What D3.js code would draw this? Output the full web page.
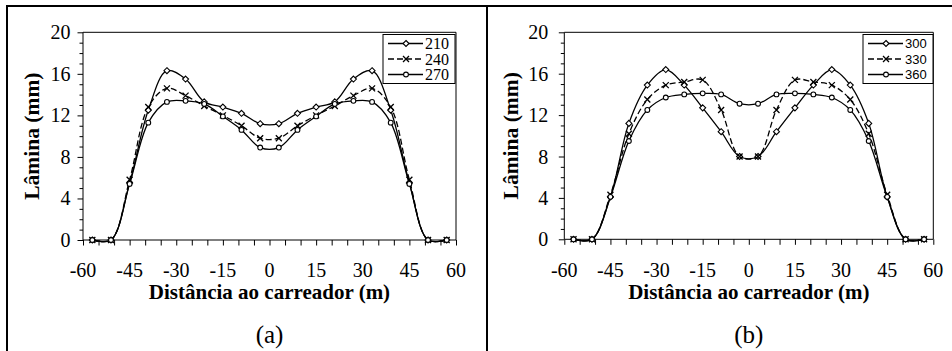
<!DOCTYPE html>
<html><head><meta charset="utf-8">
<script src="https://cdn.jsdelivr.net/npm/d3@7"></script>
<style>
body{margin:0;background:#fff} svg{display:block}
.serif{font-family:"Liberation Serif","Tinos","Times New Roman","DejaVu Serif",serif}
.sans{font-family:"Liberation Sans",Arial,sans-serif}
</style>
</head><body>
<svg id="c" width="952" height="351"></svg>
<script>
// ---------- data ----------
const distances = [-57,-51,-45,-39,-33,-27,-21,-15,-9,-3,3,9,15,21,27,33,39,45,51,57];

const seriesNamesA = ["210","240","270"];
const a210 = [0,0,5.5,12.5,16.3,15.5,13.3,12.8,12.2,11.2,11.2,12.2,12.8,13.3,15.5,16.3,12.5,5.5,0,0];
const a240 = [0,0,5.8,12.8,14.6,13.9,12.9,12.0,11.0,9.8,9.8,11.0,12.0,12.9,13.9,14.6,12.8,5.8,0,0];
const a270 = [0,0,5.4,11.3,13.3,13.4,13.1,11.9,10.6,8.9,8.9,10.6,11.9,13.1,13.4,13.3,11.3,5.4,0,0];

const seriesNamesB = ["300","330","360"];
const b300 = [0,0,4.1,11.2,14.9,16.4,14.9,12.7,10.4,8.0,8.0,10.4,12.7,14.9,16.4,14.9,11.2,4.1,0,0];
const b330 = [0,0,4.3,10.2,13.5,14.9,15.2,15.4,12.5,8.0,8.0,12.5,15.4,15.2,14.9,13.5,10.2,4.3,0,0];
const b360 = [0,0,4.1,9.5,12.5,13.7,14.0,14.1,14.0,13.1,13.1,14.0,14.1,14.0,13.7,12.5,9.5,4.1,0,0];

const xTickLabels = [-60,-45,-30,-15,0,15,30,45,60];
const yTickLabels = [0,4,8,12,16,20];
const xTitle = "Distância ao carreador (m)";
const yTitle = "Lâmina (mm)";
const panelLabels = ["(a)","(b)"];

// ---------- drawing ----------
const svg = d3.select("#c");
const markerTypes = ["diamond","x","circle"];
const dashes = [null,"6,3",null];

// frame
svg.append("line").attr("x1",6).attr("x2",952).attr("y1",6).attr("y2",6).attr("stroke","#000").attr("stroke-width",2);
svg.append("line").attr("x1",7).attr("x2",7).attr("y1",5).attr("y2",351).attr("stroke","#000").attr("stroke-width",2);
svg.append("line").attr("x1",487).attr("x2",487).attr("y1",5).attr("y2",351).attr("stroke","#000").attr("stroke-width",2);

const panels = [
  {names: seriesNamesA, values:[a210,a240,a270], x0:83, x1:456, yTop:32.3, yBot:240,
   yLabGap:12.5, yTitleX:38.5, legend:{x:383, y:34.5, w:72, h:49}, legClass:"serif", legSize:16,
   label: panelLabels[0]},
  {names: seriesNamesB, values:[b300,b330,b360], x0:564.3, x1:933.3, yTop:32.3, yBot:239.3,
   yLabGap:16, yTitleX:517.5, legend:{x:863, y:34.5, w:70, h:49}, legClass:"sans", legSize:13,
   label: panelLabels[1]}
];

function drawMarker(g, type, x, y){
  if(type==="circle"){
    g.append("circle").attr("cx",x).attr("cy",y).attr("r",2.4)
      .attr("fill","#fff").attr("stroke","#000").attr("stroke-width",1.1);
  } else if(type==="diamond"){
    const s=3;
    g.append("path").attr("d",`M${x},${y-s}L${x+s},${y}L${x},${y+s}L${x-s},${y}Z`)
      .attr("fill","#fff").attr("stroke","#000").attr("stroke-width",1.1);
  } else {
    const s=3;
    g.append("path").attr("d",`M${x-s},${y-s}L${x+s},${y+s}M${x-s},${y+s}L${x+s},${y-s}`)
      .attr("fill","none").attr("stroke","#000").attr("stroke-width",1.3);
  }
}

panels.forEach(p=>{
  const x = d3.scaleLinear().domain([-60,60]).range([p.x0,p.x1]);
  const y = d3.scaleLinear().domain([0,20]).range([p.yBot,p.yTop]);
  const g = svg.append("g");

  g.append("path").attr("d",`M${p.x0},${p.yTop}H${p.x1}V${p.yBot}`)
    .attr("fill","none").attr("stroke","#000").attr("stroke-width",1);

  // y axis
  const yAx = g.append("g").attr("transform",`translate(${p.x0},0)`)
    .call(d3.axisLeft(y).tickValues(d3.range(0,21,1)).tickSize(3.5).tickFormat(""));
  yAx.select(".domain").remove();
  yAx.selectAll(".tick line").attr("x2", d => d%4===0 ? -5.5 : -3.5).attr("stroke","#000");
  g.append("line").attr("x1",p.x0).attr("x2",p.x0).attr("y1",p.yTop).attr("y2",p.yBot).attr("stroke","#000");
  g.selectAll(".ylab").data(yTickLabels).enter().append("text").attr("class","serif")
    .attr("x",p.x0-p.yLabGap).attr("y",d=>y(d)).attr("dy","0.35em")
    .attr("text-anchor","end").attr("font-size",20).text(d=>d);

  // x axis
  const xAx = g.append("g").attr("transform",`translate(0,${p.yBot})`)
    .call(d3.axisBottom(x).tickValues(d3.range(-60,61,5)).tickSize(5.5).tickFormat(""));
  xAx.select(".domain").remove();
  xAx.selectAll(".tick line").attr("stroke","#000");
  g.append("line").attr("x1",p.x0).attr("x2",p.x1).attr("y1",p.yBot).attr("y2",p.yBot).attr("stroke","#000");
  g.selectAll(".xlab").data(xTickLabels).enter().append("text").attr("class","serif")
    .attr("x",d=>x(d)).attr("y",277).attr("text-anchor","middle")
    .attr("font-size",20).text(d=>d);

  // titles
  const cx = (p.x0+p.x1)/2;
  g.append("text").attr("class","serif").attr("x",cx).attr("y",298.5).attr("text-anchor","middle")
    .attr("font-size",21).attr("font-weight","bold").text(xTitle);
  g.append("text").attr("class","serif").attr("transform",`translate(${p.yTitleX},${(p.yTop+p.yBot)/2}) rotate(-90)`)
    .attr("text-anchor","middle").attr("font-size",21.5)
    .attr("font-weight","bold").text(yTitle);
  g.append("text").attr("class","serif").attr("x",cx).attr("y",342.5).attr("text-anchor","middle")
    .attr("font-size",25).text(p.label);

  // series
  const line = d3.line().x(d=>x(d[0])).y(d=>y(d[1])).curve(d3.curveCatmullRom.alpha(0.5));
  p.values.forEach((vals,i)=>{
    const pts = distances.map((d,k)=>[d, vals[k]]);
    g.append("path").attr("d",line(pts)).attr("fill","none").attr("stroke","#000")
      .attr("stroke-width",1.3).attr("stroke-dasharray",dashes[i]);
  });
  p.values.forEach((vals,i)=>{
    const mg = g.append("g");
    distances.forEach((d,k)=>drawMarker(mg, markerTypes[i], x(d), y(vals[k])));
  });

  // legend
  const L = p.legend;
  const lg = g.append("g");
  lg.append("rect").attr("x",L.x).attr("y",L.y).attr("width",L.w).attr("height",L.h)
    .attr("fill","#fff").attr("stroke","#000").attr("stroke-width",1);
  const rows = [9,24.5,40];
  p.names.forEach((n,i)=>{
    const ry = L.y+rows[i];
    lg.append("line").attr("x1",L.x+5).attr("x2",L.x+40).attr("y1",ry).attr("y2",ry)
      .attr("stroke","#000").attr("stroke-width",1.3).attr("stroke-dasharray",dashes[i]);
    drawMarker(lg, markerTypes[i], L.x+23, ry);
    lg.append("text").attr("class",p.legClass).attr("x",L.x+42).attr("y",ry).attr("dy","0.35em")
      .attr("font-size",p.legSize).text(n);
  });
});
</script>
</body></html>
